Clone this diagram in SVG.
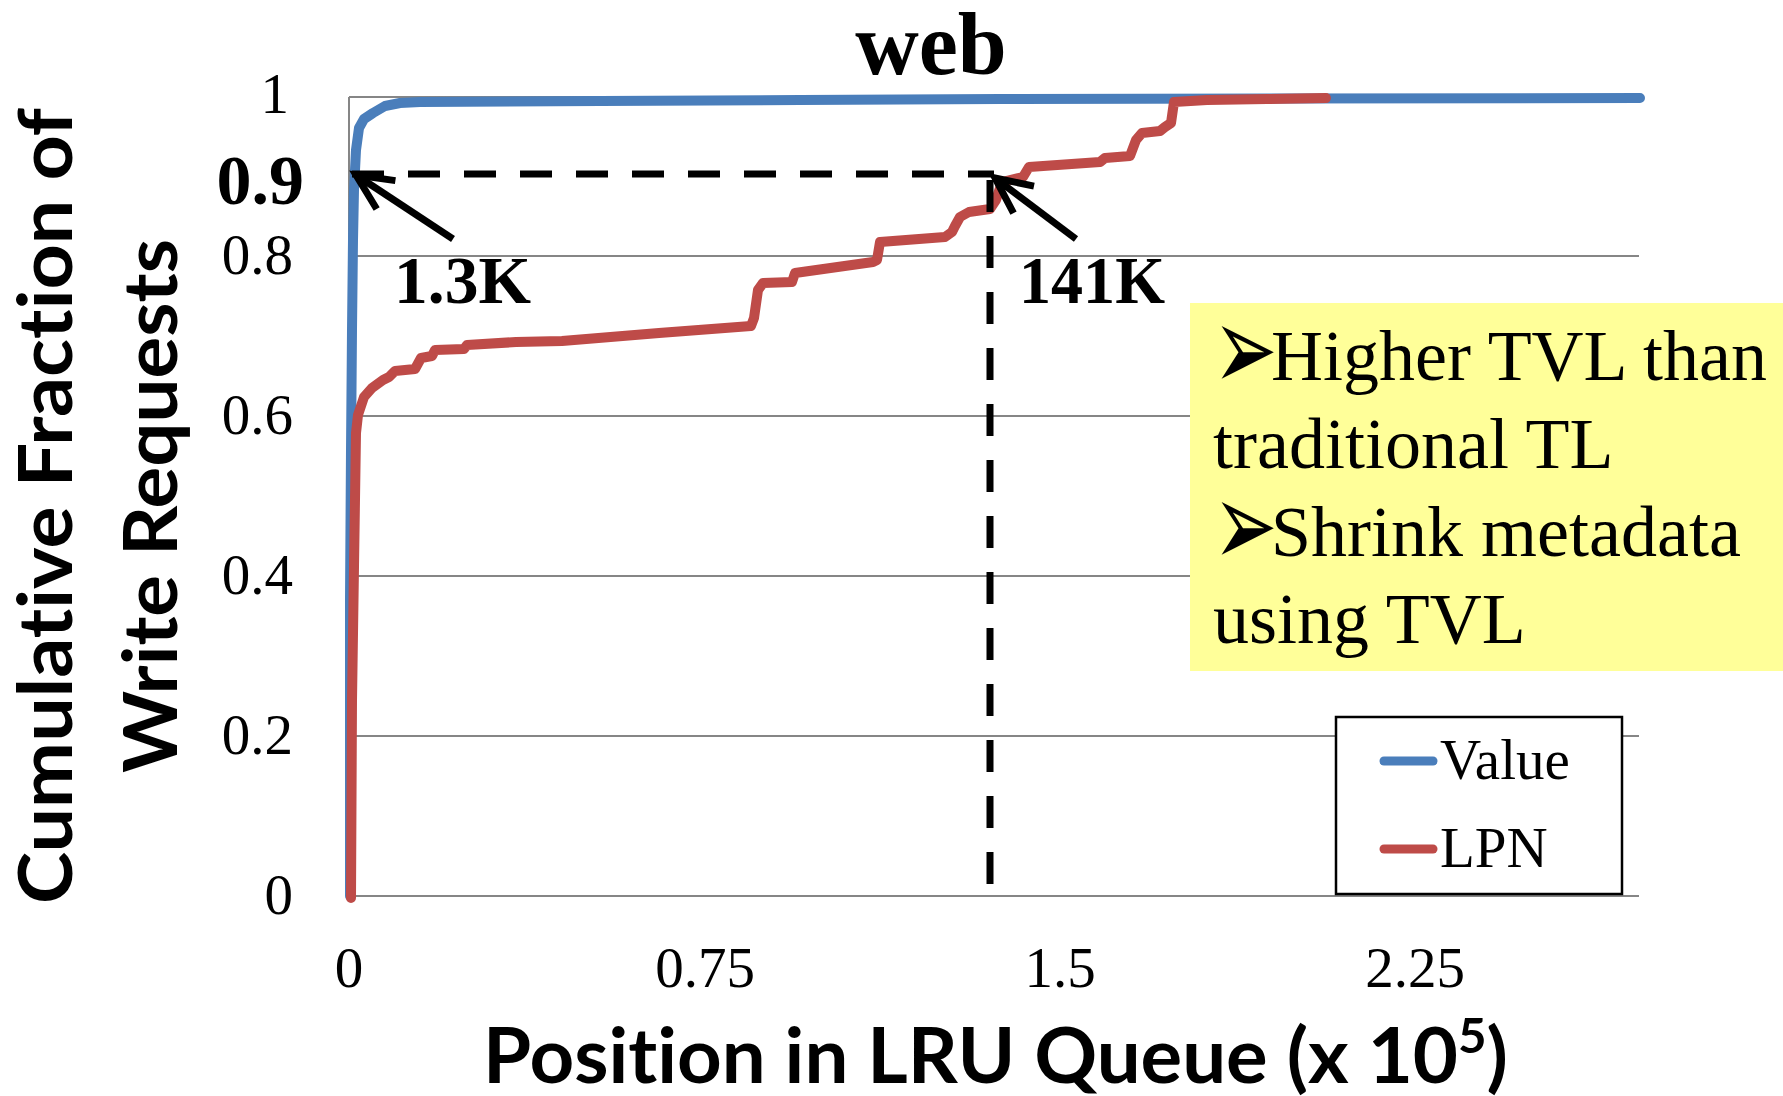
<svg xmlns="http://www.w3.org/2000/svg" width="1783" height="1096" viewBox="0 0 1783 1096">
<style>
.grid{stroke:#868686;stroke-width:2;fill:none}
.tick{font-family:"Liberation Serif",serif;font-size:57px;fill:#000}
.ytick{text-anchor:end}
.xtick{text-anchor:middle}
.axt{font-family:Lato,"Liberation Sans",sans-serif;font-weight:700;fill:#000;font-variant-ligatures:none;font-feature-settings:"liga" 0,"clig" 0}
.note{font-family:"Liberation Serif",serif;font-size:72px;fill:#000}
.bul{font-family:"DejaVu Sans",sans-serif;font-size:77px;fill:#000}
.ann{font-family:"Liberation Serif",serif;font-weight:700;font-size:68px;fill:#000}
.series{fill:none;stroke-width:10;stroke-linejoin:round;stroke-linecap:round}
.dash{stroke:#000;stroke-width:7;fill:none;stroke-dasharray:32 24}
.arrow{stroke:#000;stroke-width:7;fill:none;marker-end:url(#vhead)}
</style>
<defs>
<marker id="vhead" markerUnits="userSpaceOnUse" orient="auto" refX="0" refY="0" markerWidth="60" markerHeight="60" viewBox="-50 -30 60 60" overflow="visible">
<path d="M-36,-17 L0,0 L-36,17" fill="none" stroke="#000" stroke-width="7" stroke-linejoin="miter"/>
</marker>
</defs>
<rect width="1783" height="1096" fill="#fff"/>

<g id="plot-grid">
<line class="grid" x1="349" y1="97" x2="1639" y2="97"/>
<line class="grid" x1="349" y1="256" x2="1639" y2="256"/>
<line class="grid" x1="349" y1="416" x2="1639" y2="416"/>
<line class="grid" x1="349" y1="576" x2="1639" y2="576"/>
<line class="grid" x1="349" y1="736" x2="1639" y2="736"/>
<line class="grid" x1="349" y1="97" x2="349" y2="896"/>
<line class="grid" x1="349" y1="896" x2="1639" y2="896" stroke-width="3"/>
</g>

<g id="title"><text x="931" y="74" text-anchor="middle" font-family="'Liberation Serif',serif" font-weight="700" font-size="88">web</text></g>

<g id="y-ticks" class="tick ytick">
<text x="289" y="113">1</text>
<text x="304" y="204" font-weight="700" font-size="70">0.9</text>
<text x="293" y="274">0.8</text>
<text x="293" y="434">0.6</text>
<text x="293" y="594">0.4</text>
<text x="293" y="754">0.2</text>
<text x="293" y="914">0</text>
</g>

<g id="x-ticks" class="tick xtick">
<text x="349" y="987">0</text>
<text x="705" y="987">0.75</text>
<text x="1060" y="987">1.5</text>
<text x="1415" y="987">2.25</text>
</g>

<g id="y-title" class="axt">
<text transform="translate(72,506) rotate(-90)" text-anchor="middle" font-size="74" textLength="796" lengthAdjust="spacingAndGlyphs">Cumulative Fraction of</text>
<text transform="translate(177,506) rotate(-90)" text-anchor="middle" font-size="74" textLength="534" lengthAdjust="spacingAndGlyphs">Write Requests</text>
</g>

<g id="x-title" class="axt">
<text x="483" y="1083" font-size="76" textLength="1025" lengthAdjust="spacingAndGlyphs">Position in LRU Queue (x 10<tspan dy="-30" font-size="48">5</tspan><tspan dy="30">)</tspan></text>
</g>

<g id="series-value">
<path class="series" stroke="#4A7EBB" d="M350,896 L350,600 L351,450 L352,330 L353,240 L354,190 L356,150 L359,128 L364,119 L373,113 L385,106 L400,103 L420,102 L600,101 L800,100 L1000,99 L1640,98"/>
</g>
<g id="series-lpn">
<path class="series" stroke="#BE4B48" d="M351,898 L352,700 L354,567 L356,433 L358,415 L364,397 L372,388 L383,380 L389,377 L395,371 L415,369 L421,358 L432,356 L435,350 L464,349 L467,345 L516,342 L562,341 L659,333 L751,326 L754,318 L758,290 L763,283 L792,282 L795,273 L873,262 L877,260 L880,242 L945,237 L952,232 L955,226 L960,217 L969,212 L990,209 L996,200 L1002,182 L1023,177 L1029,167 L1100,162 L1105,158 L1130,156 L1136,140 L1142,133 L1160,131 L1165,127 L1171,123 L1174,102 L1207,100 L1267,99 L1326,98"/>
</g>

<g id="connectors">
<line class="dash" x1="352" y1="174" x2="994" y2="174"/>
<line class="dash" x1="990" y1="180" x2="990" y2="896"/>
<line class="arrow" x1="453" y1="239" x2="356" y2="175"/>
<line class="arrow" x1="1076" y1="239" x2="995" y2="178"/>
</g>

<g id="label-1-3k"><text class="ann" x="394" y="303" textLength="137" lengthAdjust="spacingAndGlyphs">1.3K</text></g>
<g id="label-141k"><text class="ann" x="1019" y="303" textLength="146" lengthAdjust="spacingAndGlyphs">141K</text></g>

<g id="note">
<rect x="1190" y="303" width="593" height="368" fill="#FFFF99"/>
<text class="bul" transform="translate(1213,390) scale(1,1.56)">➢</text>
<text class="note" x="1271" y="380">Higher TVL than</text>
<text class="note" x="1213" y="468">traditional TL</text>
<text class="bul" transform="translate(1213,566) scale(1,1.56)">➢</text>
<text class="note" x="1271" y="556">Shrink metadata</text>
<text class="note" x="1213" y="643">using TVL</text>
</g>

<g id="legend">
<rect x="1336" y="717" width="286" height="177" fill="#fff" stroke="#000" stroke-width="2.5"/>
<line x1="1384" y1="761" x2="1433" y2="761" stroke="#4A7EBB" stroke-width="9" stroke-linecap="round"/>
<line x1="1384" y1="849" x2="1433" y2="849" stroke="#BE4B48" stroke-width="9" stroke-linecap="round"/>
<text class="tick" x="1440" y="779">Value</text>
<text class="tick" x="1440" y="867">LPN</text>
</g>
</svg>
